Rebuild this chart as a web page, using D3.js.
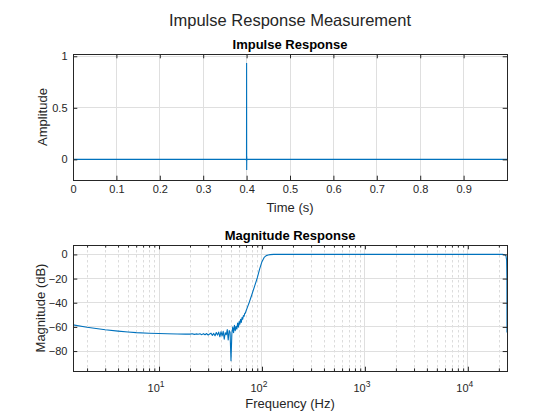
<!DOCTYPE html>
<html>
<head>
<meta charset="utf-8">
<script src="https://cdn.jsdelivr.net/npm/d3@7"></script>
<style>
  body { margin: 0; background: #fff; }
  svg { display: block; font-family: "Liberation Sans", Arial, Helvetica, sans-serif; }
</style>
</head>
<body>
<svg id="chart" width="560" height="420"></svg>
<script>
// ---------- data ----------
const figureTitle = "Impulse Response Measurement";
const impulseTitle = "Impulse Response";
const magnitudeTitle = "Magnitude Response";

// impulse response: time (s) and amplitude
const impulseTime = [0, 0.3980, 0.3990, 0.3996, 0.3998, 0.4000, 0.4002, 0.4004, 0.4006, 0.4010, 0.4020, 0.4100, 1.0];
const impulseAmp  = [0, 0.000, 0.002, -0.010, 0.020, 0.935, -0.104, 0.030, -0.010, 0.004, 0.000, 0.000, 0.0];
const timeTicks = [0, 0.1, 0.2, 0.3, 0.4, 0.5, 0.6, 0.7, 0.8, 0.9];
const ampTicks = [0, 0.5, 1];

// magnitude response: frequency (Hz) and magnitude (dB)
const freqHz = [1.46, 2, 3, 4, 5, 6, 8, 10, 12, 15, 18, 20, 21, 22, 23, 24,
  25, 26, 27, 28, 29, 30, 31, 32, 33, 34, 35, 36, 37, 38, 39, 40,
  41, 42, 43, 44, 45, 46, 47, 48, 49, 50, 51, 52, 53, 54, 55, 56, 57, 58, 59, 60,
  61, 62, 63, 64, 65, 66, 67, 68, 69, 70,
  72, 75, 80, 85, 90, 95, 100, 105, 110, 115, 120, 130, 150, 200, 300, 500, 800,
  1000, 1500, 2000, 3000, 5000, 8000, 10000, 15000, 20000, 22000, 23000, 23500, 23800, 23950, 24000];
const magDb = [-58.3, -60.3, -62.4, -63.5, -64.2, -64.7, -65.2, -65.5, -65.7, -65.9, -66.0, -66.0, -65.7, -66.2, -65.8, -66.1,
  -65.7, -66.4, -65.6, -66.5, -65.5, -66.7, -65.9, -65.2, -67.0, -65.4, -67.3, -64.6, -66.8, -64.3, -68.2, -64.0,
  -67.5, -63.6, -70.2, -64.8, -66.5, -62.2, -70.8, -63.0, -64.5, -88.0, -65.5, -60.2, -64.8, -58.6, -63.2, -59.5, -61.8, -56.8, -60.2, -55.6,
  -57.8, -53.8, -56.2, -52.2, -53.6, -50.6, -51.2, -48.8, -48.6, -46.8,
  -44.0, -40.0, -33.0, -26.0, -19.5, -12.0, -6.0, -2.5, -1.0, -0.5, -0.2, 0.0, 0.0, 0.0, 0.0, 0.0, 0.0,
  0.0, 0.0, 0.0, 0.0, 0.0, 0.0, 0.0, 0.0, 0.0, 0.0, -0.3, -1.5, -5.0, -20.0, -64.6];
const freqTicks = [10, 100, 1000, 10000];
const dbTicks = [-80, -60, -40, -20, 0];

// ---------- drawing ----------
const svg = d3.select("#chart");
const textColor = "#262626";
const lineColor = "#0072BD";
const gridColor = "#dfdfdf";
const tickLen = 4.3;
const tickFont = 11;

svg.append("text").attr("x", 290).attr("y", 26).attr("text-anchor", "middle")
  .attr("font-size", 16.5).attr("fill", textColor).text(figureTitle);

function frame(g, L, R, T, B) {
  g.append("rect").attr("x", L).attr("y", T).attr("width", R - L).attr("height", B - T)
    .attr("fill", "none").attr("stroke", textColor).attr("stroke-width", 1)
    .attr("shape-rendering", "crispEdges");
}
function styleAxis(g) {
  g.select(".domain").remove();
  g.selectAll("line").attr("stroke", textColor);
  g.selectAll("text").attr("fill", textColor).attr("font-size", tickFont)
    .attr("font-family", "Liberation Sans, Arial, sans-serif");
}

// ---- top axes ----
const A1 = {L: 73, R: 507, T: 54, B: 180};
const x1 = d3.scaleLinear().domain([0, 0.99998]).range([A1.L, A1.R]);
const y1 = d3.scaleLinear().domain([-0.2, 1.022]).range([A1.B, A1.T]);
const g1 = svg.append("g");

g1.selectAll("line.gx").data(timeTicks).join("line")
  .attr("x1", d => x1(d)).attr("x2", d => x1(d)).attr("y1", A1.T).attr("y2", A1.B)
  .attr("stroke", gridColor).attr("shape-rendering", "crispEdges");
g1.selectAll("line.gy").data(ampTicks).join("line")
  .attr("y1", d => y1(d)).attr("y2", d => y1(d)).attr("x1", A1.L).attr("x2", A1.R)
  .attr("stroke", gridColor).attr("shape-rendering", "crispEdges");

svg.append("clipPath").attr("id", "clip1").append("rect")
  .attr("x", A1.L).attr("y", A1.T).attr("width", A1.R - A1.L).attr("height", A1.B - A1.T);
const line1 = d3.line().x((d, i) => x1(impulseTime[i])).y(d => y1(d));
g1.append("path").attr("d", line1(impulseAmp)).attr("fill", "none")
  .attr("stroke", lineColor).attr("stroke-width", 1.1).attr("clip-path", "url(#clip1)");

const gx1 = g1.append("g").attr("transform", `translate(0,${A1.B})`)
  .call(d3.axisBottom(x1).tickValues(timeTicks).tickSizeInner(-tickLen).tickSizeOuter(0).tickPadding(5.5)
    .tickFormat(d => d3.format("")(d)));
const gx1t = g1.append("g").attr("transform", `translate(0,${A1.T})`)
  .call(d3.axisTop(x1).tickValues(timeTicks).tickSizeInner(-tickLen).tickSizeOuter(0).tickFormat(""));
const gy1 = g1.append("g").attr("transform", `translate(${A1.L},0)`)
  .call(d3.axisLeft(y1).tickValues(ampTicks).tickSizeInner(-tickLen).tickSizeOuter(0).tickPadding(5.5)
    .tickFormat(d => d3.format("")(d)));
const gy1r = g1.append("g").attr("transform", `translate(${A1.R},0)`)
  .call(d3.axisRight(y1).tickValues(ampTicks).tickSizeInner(-tickLen).tickSizeOuter(0).tickFormat(""));
[gx1, gx1t, gy1, gy1r].forEach(styleAxis);
frame(g1, A1.L, A1.R, A1.T, A1.B);

g1.append("text").attr("x", 290).attr("y", 48.5).attr("text-anchor", "middle")
  .attr("font-size", 13).attr("font-weight", "bold").attr("fill", "#000").text(impulseTitle);
g1.append("text").attr("x", 290).attr("y", 212).attr("text-anchor", "middle")
  .attr("font-size", 13).attr("fill", textColor).text("Time (s)");
g1.append("text").attr("transform", `translate(47,${(A1.T + A1.B) / 2}) rotate(-90)`).attr("text-anchor", "middle")
  .attr("font-size", 13).attr("fill", textColor).text("Amplitude");

// ---- bottom axes ----
const A2 = {L: 73, R: 507, T: 245, B: 371};
const x2 = d3.scaleLog().domain([1.46, 24000]).range([A2.L, A2.R]);
const y2 = d3.scaleLinear().domain([-96.5, 7.8]).range([A2.B, A2.T]);
const g2 = svg.append("g");

const minorFreqs = [];
[1, 10, 100, 1000, 10000].forEach(dec => {
  for (let k = 2; k <= 9; k++) {
    const f = k * dec;
    if (f > 1.46 && f < 24000) minorFreqs.push(f);
  }
});
g2.selectAll("line.mgx").data(minorFreqs).join("line")
  .attr("x1", d => Math.round(x2(d)) + 0.5).attr("x2", d => Math.round(x2(d)) + 0.5).attr("y1", A2.T).attr("y2", A2.B)
  .attr("stroke", "#dcdcdc").attr("stroke-dasharray", "2.5,2.5");
g2.selectAll("line.gx").data(freqTicks).join("line")
  .attr("x1", d => x2(d)).attr("x2", d => x2(d)).attr("y1", A2.T).attr("y2", A2.B)
  .attr("stroke", gridColor).attr("shape-rendering", "crispEdges");
g2.selectAll("line.gy").data(dbTicks).join("line")
  .attr("y1", d => y2(d)).attr("y2", d => y2(d)).attr("x1", A2.L).attr("x2", A2.R)
  .attr("stroke", gridColor).attr("shape-rendering", "crispEdges");

svg.append("clipPath").attr("id", "clip2").append("rect")
  .attr("x", A2.L).attr("y", A2.T).attr("width", A2.R - A2.L).attr("height", A2.B - A2.T);
const line2 = d3.line().x((d, i) => x2(freqHz[i])).y(d => y2(d));
g2.append("path").attr("d", line2(magDb)).attr("fill", "none")
  .attr("stroke", lineColor).attr("stroke-width", 1.1).attr("stroke-linejoin", "round").attr("clip-path", "url(#clip2)");

const gx2 = g2.append("g").attr("transform", `translate(0,${A2.B})`)
  .call(d3.axisBottom(x2).tickValues(freqTicks).tickSizeInner(-tickLen).tickSizeOuter(0).tickFormat(""));
const gx2t = g2.append("g").attr("transform", `translate(0,${A2.T})`)
  .call(d3.axisTop(x2).tickValues(freqTicks).tickSizeInner(-tickLen).tickSizeOuter(0).tickFormat(""));
const gx2m = g2.append("g").attr("transform", `translate(0,${A2.B})`)
  .call(d3.axisBottom(x2).tickValues(minorFreqs).tickSizeInner(-2.6).tickSizeOuter(0).tickFormat(""));
const gx2mt = g2.append("g").attr("transform", `translate(0,${A2.T})`)
  .call(d3.axisTop(x2).tickValues(minorFreqs).tickSizeInner(-2.6).tickSizeOuter(0).tickFormat(""));
const gy2 = g2.append("g").attr("transform", `translate(${A2.L},0)`)
  .call(d3.axisLeft(y2).tickValues(dbTicks).tickSizeInner(-tickLen).tickSizeOuter(0).tickPadding(5.5)
    .tickFormat(d => d3.format("")(d)));
const gy2r = g2.append("g").attr("transform", `translate(${A2.R},0)`)
  .call(d3.axisRight(y2).tickValues(dbTicks).tickSizeInner(-tickLen).tickSizeOuter(0).tickFormat(""));
[gx2, gx2t, gx2m, gx2mt, gy2, gy2r].forEach(styleAxis);

const expLabels = g2.selectAll("text.exp").data(freqTicks).join("text")
  .attr("x", d => x2(d) - 3).attr("y", 392).attr("text-anchor", "middle")
  .attr("font-size", tickFont).attr("fill", textColor);
expLabels.append("tspan").text("10");
expLabels.append("tspan").attr("font-size", 8.5).attr("dy", -5).text(d => Math.round(Math.log10(d)));
frame(g2, A2.L, A2.R, A2.T, A2.B);

g2.append("text").attr("x", 290).attr("y", 239.5).attr("text-anchor", "middle")
  .attr("font-size", 13).attr("font-weight", "bold").attr("fill", "#000").text(magnitudeTitle);
g2.append("text").attr("x", 290).attr("y", 408).attr("text-anchor", "middle")
  .attr("font-size", 13).attr("fill", textColor).text("Frequency (Hz)");
g2.append("text").attr("transform", `translate(45,${(A2.T + A2.B) / 2}) rotate(-90)`).attr("text-anchor", "middle")
  .attr("font-size", 13).attr("fill", textColor).text("Magnitude (dB)");
</script>
</body>
</html>
